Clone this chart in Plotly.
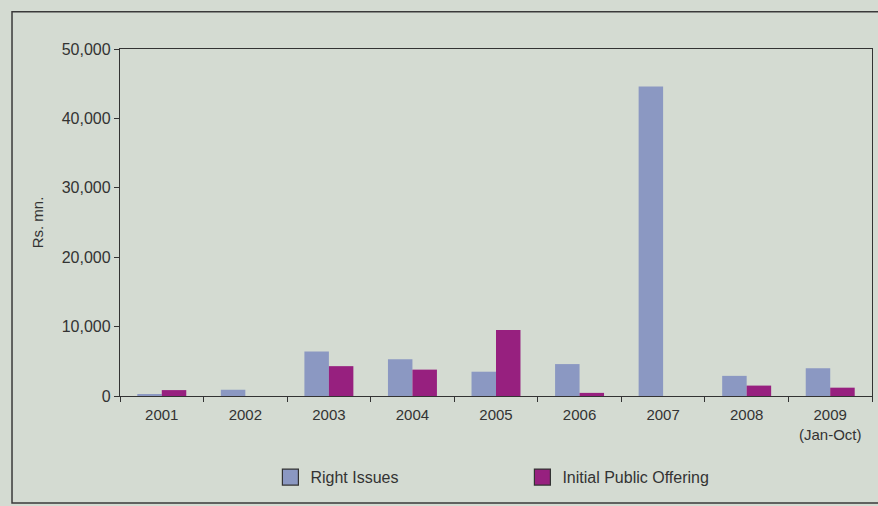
import plotly.graph_objects as go

# Funds raised on the primary market, Rs. mn.
years = ["2001", "2002", "2003", "2004", "2005", "2006", "2007", "2008", "2009<br>(Jan-Oct)"]
right_issues = [150, 900, 6400, 5300, 3500, 4600, 44600, 2900, 4000]
ipo = [850, 0, 4300, 3800, 9500, 450, 0, 1500, 1200]
y_ticks = [0, 10000, 20000, 30000, 40000, 50000]

RI_COLOR = "#8b98c2"
IPO_COLOR = "#97207f"
BG = "#d4dbd2"
INK = "#333333"
FONT = "Liberation Sans, Arial, sans-serif"

fig = go.Figure()
fig.add_trace(go.Bar(x=years, y=right_issues, name="Right Issues",
                     marker=dict(color=RI_COLOR, line=dict(width=0)), showlegend=False))
fig.add_trace(go.Bar(x=years, y=ipo, name="Initial Public Offering",
                     marker=dict(color=IPO_COLOR, line=dict(width=0)), showlegend=False))

# Legend keys: larger outlined squares
for name, col in [("Right Issues", RI_COLOR), ("Initial Public Offering", IPO_COLOR)]:
    fig.add_trace(go.Scatter(x=[None], y=[None], mode="markers", name=name,
                             marker=dict(symbol="square", size=16, color=col,
                                         line=dict(color=INK, width=1.2))))

fig.update_layout(
    width=878, height=506,
    margin=dict(l=120, r=6, t=49, b=110),
    paper_bgcolor=BG, plot_bgcolor=BG,
    font=dict(family=FONT, size=15, color=INK),
    barmode="group", bargap=0.414, bargroupgap=0,
    legend=dict(orientation="h", x=0.2, y=-0.185, xanchor="left", yanchor="top",
                entrywidth=207, entrywidthmode="pixels", itemsizing="trace",
                font=dict(size=16, color=INK), bgcolor="rgba(0,0,0,0)"),
    shapes=[dict(type="rect", xref="paper", yref="paper",
                 x0=-0.1436, x1=1.03, y0=-0.308, y1=1.107,
                 line=dict(color="#3a3a3a", width=1.5))],
)
fig.update_xaxes(
    type="category", showline=True, linecolor=INK, linewidth=1.3, mirror=True,
    ticks="outside", tickson="boundaries", ticklen=5, tickcolor=INK,
    tickfont=dict(size=15), ticklabelstandoff=5, showgrid=False, zeroline=False,
)
fig.update_yaxes(
    range=[0, 50000], tickvals=y_ticks, tickformat=",", showline=True,
    linecolor=INK, linewidth=1.3, mirror=True, ticks="outside", ticklen=5,
    tickcolor=INK, tickfont=dict(size=16), showgrid=False, zeroline=False,
    title=dict(text="Rs. mn.", font=dict(size=15), standoff=14),
)

fig.write_html("out.html")
